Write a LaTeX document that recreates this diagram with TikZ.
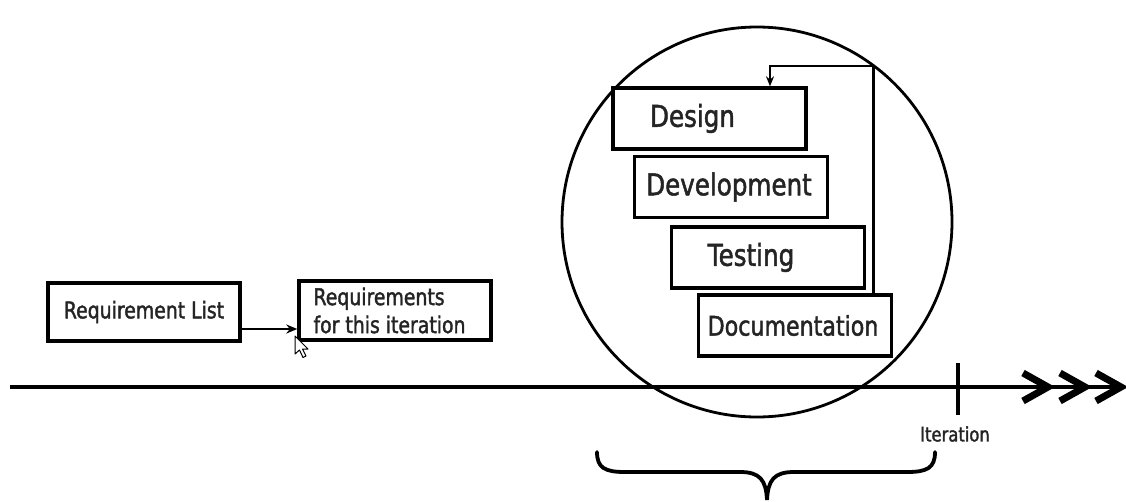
\documentclass[tikz,border=0pt]{standalone}
\usepackage{fontspec}
\setmainfont[FakeStretch=0.82,FakeBold=1.6]{DejaVu Sans}
\usetikzlibrary{arrows.meta,calc}

\definecolor{ink}{gray}{0.14}

\tikzset{
  box/.style={draw=black, line width=3.4pt, fill=white, inner sep=0pt},
  stage/.style={box, minimum width=193pt, minimum height=61pt},
  stagetext/.style={text=ink, inner sep=0pt, font=\fontsize{30}{36}\selectfont},
  reqtext/.style={text=ink, inner sep=0pt, font=\fontsize{23}{28}\selectfont},
  axisline/.style={line width=3.4pt},
  chev/.style={line width=7pt, miter limit=10},
  loopline/.style={line width=2.8pt, -{Stealth[length=10pt,width=8pt]}},
  linkarrow/.style={line width=2.8pt, -{Stealth[length=11pt,width=9pt]}},
  bracestyle/.style={line width=3.8pt, line cap=round},
}

\begin{document}
\begin{tikzpicture}[x=1pt,y=-1pt]
\useasboundingbox (0,0) rectangle (1126,501);

% requirement boxes
\node[box, minimum width=192pt, minimum height=58pt] (reqlist) at (144,312) {};
\node[reqtext] at (reqlist.center) {Requirement List};
\node[box, minimum width=192pt, minimum height=59pt] (reqiter) at (395,310.5) {};
\node[reqtext, anchor=west, align=left] at ([xshift=16pt]reqiter.west) {Requirements\\for this iteration};
\coordinate (linkstart) at ([yshift=-17pt]reqlist.east);
\draw[linkarrow] (linkstart) -- (linkstart -| reqiter.west);

% mouse pointer
\draw[fill=white, line width=1pt, line join=round]
  (295,336) -- ++(0,18) -- ++(4.5,-4) -- ++(3.5,7.5) -- ++(3,-1.5) -- ++(-3.5,-7) -- ++(5.5,0) -- cycle;

% iteration circle
\draw[line width=2.8pt] (757,222) circle (195pt);

% stages of one iteration
\node[stage] (design) at (709.5,118.5) {};
\node[stagetext] at ([xshift=-17pt]design.center) {Design};
\node[stage] (develop) at (731,187) {};
\node[stagetext] at ([xshift=-2pt]develop.center) {Development};
\node[stage] (testing) at (768,257.5) {};
\node[stagetext] at ([xshift=-17pt]testing.center) {Testing};
\node[stage] (docu) at (795,325.5) {};
\node[stagetext, font=\fontsize{27}{32}\selectfont] at ([xshift=-2pt]docu.center) {Documentation};

% feedback loop back to design
\coordinate (looptop) at (770,66);
\draw[loopline] ([xshift=-20pt]docu.north east) |- (looptop) -- (looptop |- design.north);

% time axis
\coordinate (axstart) at (10,387);
\coordinate (axend) at (1118,387);
\draw[axisline] (axstart) -- (axend);
\foreach \x in {1023,1060,1096}{
  \draw[chev] (\x,373) -- (\x+25,387) -- (\x,401);
}

% iteration mark
\coordinate (tick) at (958,389);
\draw[line width=3.2pt] ($(tick)+(0,-26)$) -- ($(tick)+(0,26)$);
\node[text=ink, inner sep=0pt, font=\fontsize{20}{24}\selectfont] (iterlabel) at (955,434) {Iteration};

% brace under the iteration
\draw[bracestyle] (597,452) .. controls (597,468) and (605,472) .. (625,472)
  -- (740,472) .. controls (760,472) and (766,480) .. (767,500)
  .. controls (768,480) and (774,472) .. (794,472)
  -- (907,472) .. controls (927,472) and (935,468) .. (935,452);
\end{tikzpicture}
\end{document}
